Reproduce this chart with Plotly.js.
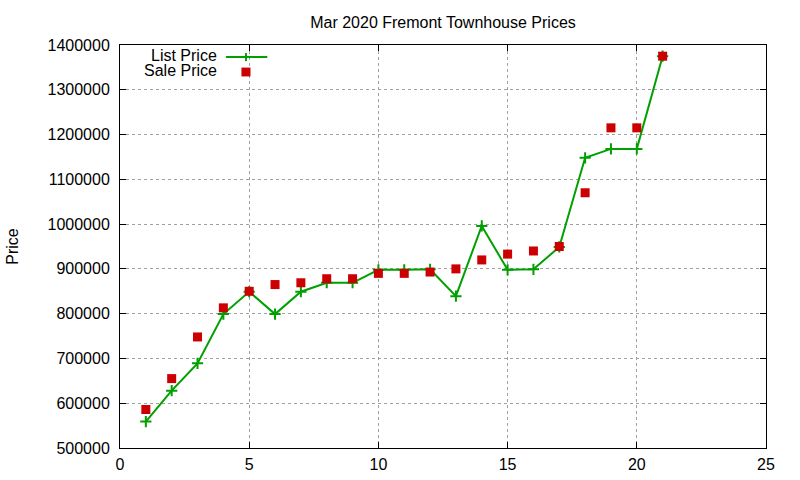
<!DOCTYPE html>
<html>
<head>
<meta charset="utf-8">
<script src="https://cdn.plot.ly/plotly-3.0.1.min.js"></script>
<style>
  body { margin: 0; background: #fff; }
  #chart { width: 800px; height: 480px; }
</style>
</head>
<body>
<div id="chart"></div>
<script>
// house index within the month
let houses = [1, 2, 3, 4, 5, 6, 7, 8, 9, 10, 11, 12, 13, 14, 15, 16, 17, 18, 19, 20, 21];

let listPrice = [559000, 628000, 689000, 799000, 849000, 799000, 849000, 869000, 869000, 898000,
                 898000, 899000, 839000, 996000, 898000, 899000, 949000, 1148000, 1168000, 1168000, 1375000];

let salePrice = [586000, 655000, 748000, 813000, 850000, 865000, 869000, 878000, 878000, 890000,
                 890000, 893000, 900000, 920000, 933000, 940000, 950000, 1070000, 1215000, 1215000, 1375000];

let xTicks = [0, 5, 10, 15, 20, 25];
let yTicks = [500000, 600000, 700000, 800000, 900000, 1000000, 1100000, 1200000, 1300000, 1400000];

const GREEN = "rgb(0,160,0)";
const RED = "rgb(204,0,0)";
const FONT = "Liberation Sans, Arial, sans-serif";

// Set up the traces
let listTrace = {
    x: houses,
    y: listPrice,
    name: "List Price",
    type: "scatter",
    mode: "lines+markers",
    line: {color: GREEN, width: 2},
    marker: {symbol: "cross-thin", size: 8, color: GREEN, line: {color: GREEN, width: 2}},
    showlegend: false
};

let saleTrace = {
    x: houses,
    y: salePrice,
    name: "Sale Price",
    type: "scatter",
    mode: "markers",
    marker: {symbol: "square", size: 9, color: RED},
    showlegend: false
};

let axisStyle = {
    showline: true,
    mirror: "ticks",
    linecolor: "black",
    linewidth: 1,
    ticks: "inside",
    ticklen: 6,
    tickcolor: "black",
    showgrid: true,
    gridcolor: "#a0a0a0",
    griddash: "dot",
    gridwidth: 1,
    zeroline: false,
    tickfont: {family: FONT, size: 16, color: "black"}
};

// gnuplot-style key: label on the left, sample on the right
let keyFont = {family: FONT, size: 16, color: "black"};

let layout = {
    width: 800,
    height: 480,
    margin: {l: 120, r: 34, t: 45, b: 32},
    paper_bgcolor: "white",
    plot_bgcolor: "white",
    title: {
        text: "Mar 2020 Fremont Townhouse Prices",
        font: {family: FONT, size: 16, color: "black"},
        x: 0.5, xref: "paper", xanchor: "center",
        y: 20, yref: "container", yanchor: "middle"
    },
    xaxis: Object.assign({}, axisStyle, {
        range: [0, 25],
        tickvals: xTicks,
        ticktext: xTicks.map(String),
        ticklabelstandoff: 2
    }),
    yaxis: Object.assign({}, axisStyle, {
        range: [500000, 1400000],
        tickvals: yTicks,
        ticktext: yTicks.map(String),
        ticklabelstandoff: 6,
        title: {text: "Price", font: {family: FONT, size: 16, color: "black"}, standoff: 24}
    }),
    annotations: [
        {xref: "paper", yref: "paper", x: 0.153, y: 0.973, xanchor: "right", yanchor: "middle",
         text: "List Price", showarrow: false, font: keyFont},
        {xref: "paper", yref: "paper", x: 0.153, y: 0.936, xanchor: "right", yanchor: "middle",
         text: "Sale Price", showarrow: false, font: keyFont}
    ],
    shapes: [
        {type: "line", xref: "paper", yref: "paper", x0: 0.164, x1: 0.228, y0: 0.970, y1: 0.970,
         line: {color: GREEN, width: 2}},
        {type: "line", xref: "paper", yref: "paper", x0: 0.195, x1: 0.195, y0: 0.960, y1: 0.980,
         line: {color: GREEN, width: 2}},
        {type: "rect", xref: "paper", yref: "paper", x0: 0.188, x1: 0.202, y0: 0.922, y1: 0.944,
         fillcolor: RED, line: {width: 0}}
    ]
};

Plotly.newPlot("chart", [listTrace, saleTrace], layout, {displayModeBar: false, staticPlot: true});
</script>
</body>
</html>
